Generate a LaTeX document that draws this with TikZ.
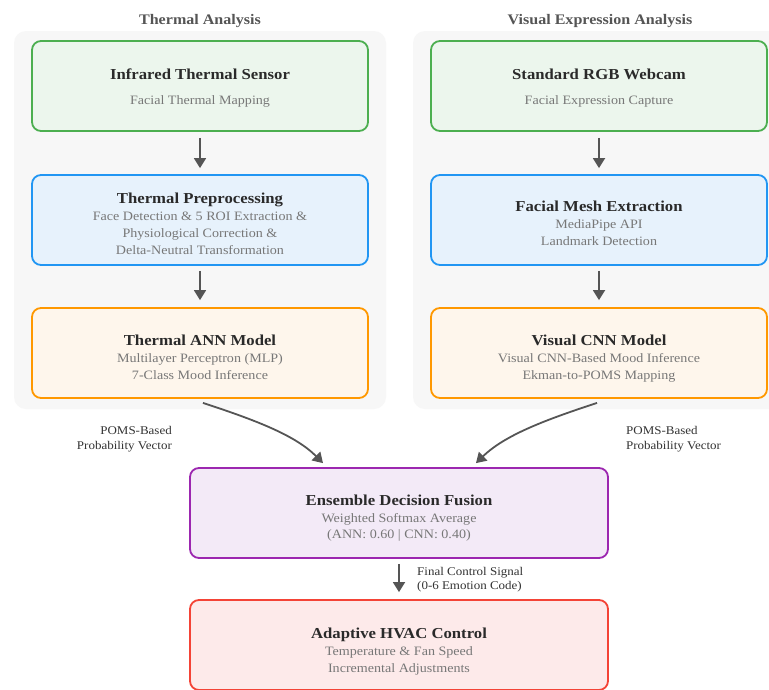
\documentclass[tikz,border=0pt]{standalone}
\usepackage{fontspec}
\setmainfont[FakeStretch=1.1]{Liberation Serif}
\usetikzlibrary{arrows.meta,calc}
\definecolor{gbd}{HTML}{4CAF50}\definecolor{gfl}{HTML}{ECF6ED}
\definecolor{bbd}{HTML}{2196F3}\definecolor{bfl}{HTML}{E7F2FC}
\definecolor{obd}{HTML}{FF9800}\definecolor{ofl}{HTML}{FEF6EC}
\definecolor{pbd}{HTML}{9C27B0}\definecolor{pfl}{HTML}{F3EAF7}
\definecolor{rbd}{HTML}{F44336}\definecolor{rfl}{HTML}{FDEAEA}
\definecolor{panelc}{HTML}{F7F7F7}
\definecolor{ttlc}{HTML}{2A2A2A}
\definecolor{subc}{HTML}{777777}
\definecolor{hdrc}{HTML}{555555}
\definecolor{arrc}{HTML}{555555}
\definecolor{lblc}{HTML}{333333}
\begin{document}
\begin{tikzpicture}[x=1pt,y=-1pt,
  panel/.style={fill=panelc,draw=none,rounded corners=12pt,inner sep=0pt},
  box/.style={draw=#1bd,fill=#1fl,line width=1.8pt,rounded corners=9pt,minimum width=336pt,minimum height=90pt,inner sep=0pt},
  widebox/.style={box=#1,minimum width=418pt},
  ttl/.style={anchor=base,inner sep=0pt,text=ttlc,font=\fontsize{15.2}{17}\selectfont\bfseries},
  sub/.style={anchor=base,inner sep=0pt,text=subc,font=\fontsize{12.8}{17}\selectfont},
  hdr/.style={anchor=base,inner sep=0pt,text=hdrc,font=\fontsize{14.6}{17}\selectfont\bfseries},
  lbl/.style={anchor=base,inner sep=0pt,text=lblc,font=\fontsize{11.8}{14.5}\selectfont},
  conn/.style={draw=arrc,line width=1.8pt,-{Triangle[length=10pt,width=12pt]}}]
\useasboundingbox (0,0) rectangle (769,689);
\clip (0,0) rectangle (769,689);
\fill[white] (0,0) rectangle (769,689);
% panels
\node[panel,minimum width=372pt,minimum height=378pt] (pl) at (200,220) {};
\node[panel,minimum width=376pt,minimum height=378pt] (pr) at (601,220) {};
\node[hdr] (hl) at (200,24) {Thermal Analysis};
\node[hdr] (hr) at (600,24) {Visual Expression Analysis};
% left column
\node[box=g] (t1) at (200,86) {};
\node[ttl] (t1a) at (200,79) {Infrared Thermal Sensor};
\node[sub] (t1b) at (200,104) {Facial Thermal Mapping};
\node[box=b] (t2) at (200,220) {};
\node[ttl] (t2a) at (200,203) {Thermal Preprocessing};
\node[sub] (t2b) at (200,220) {Face Detection \& 5 ROI Extraction \&};
\node[sub] (t2c) at (200,237) {Physiological Correction \&};
\node[sub] (t2d) at (200,254) {Delta-Neutral Transformation};
\node[box=o] (t3) at (200,353) {};
\node[ttl] (t3a) at (200,345) {Thermal ANN Model};
\node[sub] (t3b) at (200,362) {Multilayer Perceptron (MLP)};
\node[sub] (t3c) at (200,379) {7-Class Mood Inference};
% right column
\node[box=g] (v1) at (599,86) {};
\node[ttl] (v1a) at (599,79) {Standard RGB Webcam};
\node[sub] (v1b) at (599,104) {Facial Expression Capture};
\node[box=b] (v2) at (599,220) {};
\node[ttl] (v2a) at (599,211) {Facial Mesh Extraction};
\node[sub] (v2b) at (599,228) {MediaPipe API};
\node[sub] (v2c) at (599,245) {Landmark Detection};
\node[box=o] (v3) at (599,353) {};
\node[ttl] (v3a) at (599,345) {Visual CNN Model};
\node[sub] (v3b) at (599,362) {Visual CNN-Based Mood Inference};
\node[sub] (v3c) at (599,379) {Ekman-to-POMS Mapping};
% fusion & hvac
\node[widebox=p] (fu) at (399,513) {};
\node[ttl] (fua) at (399,505.5) {Ensemble Decision Fusion};
\node[sub] (fub) at (399,522) {Weighted Softmax Average};
\node[sub] (fuc) at (399,538.5) {(ANN: 0.60 | CNN: 0.40)};
\node[widebox=r] (hv) at (399,645) {};
\node[ttl] (hva) at (399,638) {Adaptive HVAC Control};
\node[sub] (hvb) at (399,655) {Temperature \& Fan Speed};
\node[sub] (hvc) at (399,672) {Incremental Adjustments};
% straight arrows
\draw[conn,shorten <=6pt,shorten >=6pt] (t1.south) -- (t2.north);
\draw[conn,shorten <=5pt,shorten >=7pt] (t2.south) -- (t3.north);
\draw[conn,shorten <=6pt,shorten >=6pt] (v1.south) -- (v2.north);
\draw[conn,shorten <=5pt,shorten >=7pt] (v2.south) -- (v3.north);
\draw[conn,shorten <=5pt,shorten >=7pt] (fu.south) -- (hv.north);
% curved arrows
\coordinate (c1s) at ($(t3.south)+(3,4)$);
\coordinate (c1e) at ($(fu.north)+(-76,-4)$);
\coordinate (c2s) at ($(v3.south)+(-2,4)$);
\coordinate (c2e) at ($(fu.north)+(77,-4)$);
\draw[conn] (c1s) .. controls (255,420) and (295,435) .. (c1e);
\draw[conn] (c2s) .. controls (545,420) and (505,435) .. (c2e);
% labels
\node[lbl,anchor=base east] (l1a) at (172,434) {POMS-Based};
\node[lbl,anchor=base east] (l1b) at (172,449) {Probability Vector};
\node[lbl,anchor=base west] (l2a) at (626,434) {POMS-Based};
\node[lbl,anchor=base west] (l2b) at (626,449) {Probability Vector};
\node[lbl,anchor=base west] (l3a) at (417,575) {Final Control Signal};
\node[lbl,anchor=base west] (l3b) at (417,589) {(0-6 Emotion Code)};
\end{tikzpicture}
\end{document}
